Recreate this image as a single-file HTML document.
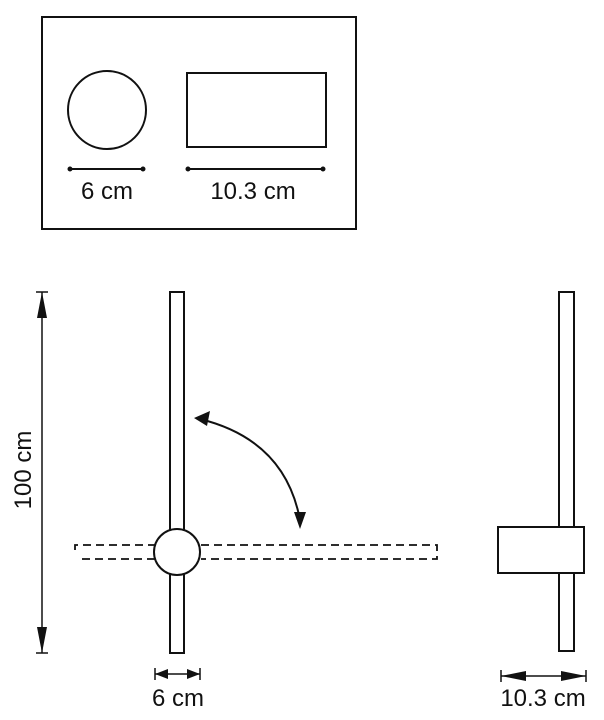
<!DOCTYPE html>
<html><head><style>body{margin:0;background:#fff}svg{display:block}</style></head><body>
<svg width="604" height="720" viewBox="0 0 604 720" xmlns="http://www.w3.org/2000/svg" font-family="Liberation Sans, sans-serif" fill="none" stroke="#111">
<rect x="42" y="17" width="314" height="212" stroke-width="2"/>
<circle cx="107" cy="110" r="39" stroke-width="2"/>
<rect x="187" y="73" width="139" height="74" stroke-width="2"/>
<line x1="70" y1="169" x2="143" y2="169" stroke-width="2"/>
<circle cx="70" cy="169" r="2" fill="#111"/><circle cx="143" cy="169" r="2" fill="#111"/>
<line x1="188" y1="169" x2="323" y2="169" stroke-width="2"/>
<circle cx="188" cy="169" r="2" fill="#111"/><circle cx="323" cy="169" r="2" fill="#111"/>
<g fill="#111" stroke="none" font-size="24" text-anchor="middle">
<text x="107" y="199">6 cm</text>
<text x="253" y="199">10.3 cm</text>
<text x="178" y="706">6 cm</text>
<text x="543" y="706">10.3 cm</text>
<text transform="translate(31,470) rotate(-90)">100 cm</text>
</g>
<rect x="170" y="292" width="14" height="361" stroke-width="2" fill="#fff"/>
<path d="M75 550 V545 H155 M201 545 H437 V559 H201 M155 559 H80" stroke-width="1.8" stroke-dasharray="8,5"/>
<circle cx="177" cy="552" r="23" stroke-width="2" fill="#fff"/>
<line x1="42" y1="292" x2="42" y2="653" stroke-width="1.5"/>
<line x1="36" y1="292" x2="48" y2="292" stroke-width="1.5"/>
<line x1="36" y1="653" x2="48" y2="653" stroke-width="1.5"/>
<path d="M42 292 L37 318 L47 318Z M42 653 L37 627 L47 627Z" fill="#111" stroke="none"/>
<path d="M200 419 Q285 440 300 520" stroke-width="2"/>
<path d="M194 418 L210 411 L207 426Z M300 529 L294 512 L306 512Z" fill="#111" stroke="none"/>
<line x1="155" y1="674" x2="200" y2="674" stroke-width="1.5"/>
<line x1="155" y1="668" x2="155" y2="680" stroke-width="1.5"/>
<line x1="200" y1="668" x2="200" y2="680" stroke-width="1.5"/>
<path d="M155 674 L168 669 L168 679Z M200 674 L187 669 L187 679Z" fill="#111" stroke="none"/>
<rect x="559" y="292" width="15" height="359" stroke-width="2"/>
<rect x="498" y="527" width="86" height="46" stroke-width="2" fill="#fff"/>
<line x1="501" y1="676" x2="586" y2="676" stroke-width="1.5"/>
<line x1="501" y1="670" x2="501" y2="682" stroke-width="1.5"/>
<line x1="586" y1="670" x2="586" y2="682" stroke-width="1.5"/>
<path d="M501 676 L526 671 L526 681Z M586 676 L561 671 L561 681Z" fill="#111" stroke="none"/>
</svg>
</body></html>
